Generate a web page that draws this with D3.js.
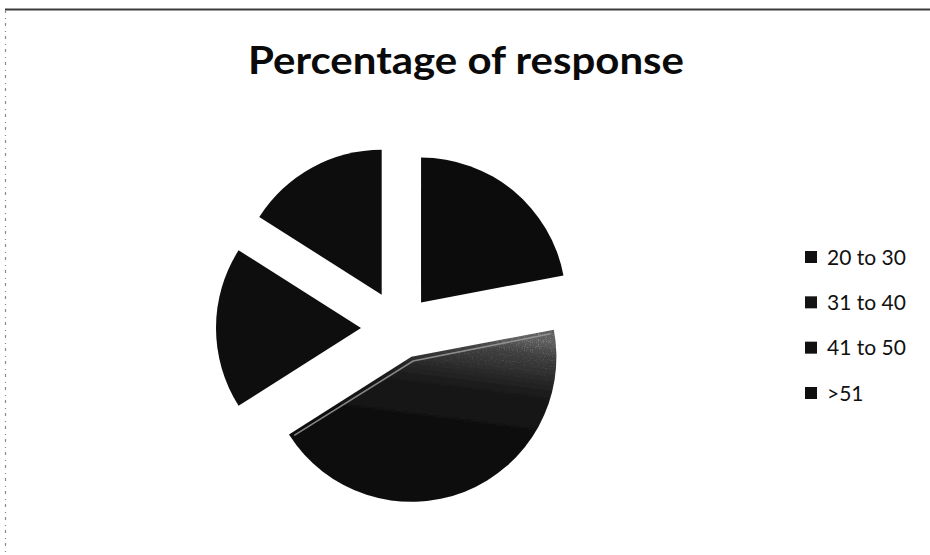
<!DOCTYPE html>
<html>
<head>
<meta charset="utf-8">
<script src="https://cdn.jsdelivr.net/npm/d3@7"></script>
<style>
  html, body { margin: 0; padding: 0; background: #fff; }
  svg { display: block; }
</style>
</head>
<body>
<svg id="chart" width="930" height="555"></svg>
<script>
// Share of responses by age group
const categories = ["20 to 30", "31 to 40", "41 to 50", ">51"];
const values = [22, 44, 18, 16];
const chartTitle = "Percentage of response";

// How far each slice is pulled out from the centre (px)
const explode = [33, 31, 39, 38];
const sliceColors = ["#0c0c0c", "url(#bigSliceFill)", "#0e0e0e", "#0d0d0d"];
const swatchColors = ["#101010", "#141414", "#111111", "#0f0f0f"];

const W = 930, H = 555;
const cx = 400, cy = 328, R = 145;

const svg = d3.select("#chart");

svg.append("rect").attr("width", W).attr("height", H).attr("fill", "#fff");

// frame: solid top rule and a broken left rule
svg.append("line")
  .attr("x1", 5).attr("x2", W).attr("y1", 9.5).attr("y2", 9.5)
  .attr("stroke", "#3a3a3a").attr("stroke-width", 2);
svg.append("line")
  .attr("x1", 5.5).attr("x2", 5.5).attr("y1", 10).attr("y2", H)
  .attr("stroke", "#8a8a8a").attr("stroke-width", 1.2)
  .attr("stroke-dasharray", "3,5,1,4");

const defs = svg.append("defs");
const grad = defs.append("linearGradient")
  .attr("id", "bigSliceFill")
  .attr("x1", 0.6).attr("y1", 0).attr("x2", 0.4).attr("y2", 1);
[[0, "#5e5e5e"], [0.08, "#404040"], [0.3, "#1a1a1a"], [0.55, "#0f0f0f"], [1, "#0a0a0a"]]
  .forEach(([o, c]) => grad.append("stop").attr("offset", o).attr("stop-color", c));

// light speckle for the shaded slice, strongest where the fill is lightest
const grain = defs.append("filter").attr("id", "grain")
  .attr("x", "-5%").attr("y", "-5%").attr("width", "110%").attr("height", "110%");
grain.append("feTurbulence").attr("type", "fractalNoise").attr("baseFrequency", 0.85)
  .attr("numOctaves", 1).attr("seed", 4).attr("result", "noise");
grain.append("feColorMatrix").attr("in", "noise").attr("type", "matrix")
  .attr("values", "0 0 0 0 0.6  0 0 0 0 0.6  0 0 0 0 0.6  0 0 0 4 -2.2").attr("result", "dots");
grain.append("feColorMatrix").attr("in", "SourceGraphic").attr("type", "luminanceToAlpha")
  .attr("result", "lum");
const ct = grain.append("feComponentTransfer").attr("in", "lum").attr("result", "lumMask");
ct.append("feFuncA").attr("type", "linear").attr("slope", 3.2).attr("intercept", -0.05);
grain.append("feComposite").attr("in", "dots").attr("in2", "lumMask")
  .attr("operator", "in").attr("result", "shaded");
grain.append("feComposite").attr("in", "shaded").attr("in2", "SourceGraphic")
  .attr("operator", "in").attr("result", "clipped");
grain.append("feMerge").selectAll("feMergeNode")
  .data(["SourceGraphic", "clipped"]).join("feMergeNode").attr("in", d => d);

// pie
const pie = d3.pie().sort(null).value(d => d);
const arcs = pie(values);
const arc = d3.arc().innerRadius(0).outerRadius(R);

const slices = svg.append("g").attr("transform", `translate(${cx},${cy})`)
  .selectAll("g.slice")
  .data(arcs)
  .join("g")
  .attr("class", "slice")
  .attr("transform", (d, i) => {
    const mid = (d.startAngle + d.endAngle) / 2;
    return `translate(${Math.sin(mid) * explode[i]},${-Math.cos(mid) * explode[i]})`;
  });

slices.append("path")
  .attr("d", arc)
  .attr("fill", (d, i) => sliceColors[i])
  .attr("filter", (d, i) => i === 1 ? "url(#grain)" : null);

// bevel highlight along the straight edges of the largest slice
slices.filter((d, i) => i === 1).each(function (d) {
  const inset = 3.5;
  const a0 = d.startAngle, a1 = d.endAngle;
  const r = R - 4;
  const e0 = [Math.sin(a0) * r + Math.cos(a0) * inset, -Math.cos(a0) * r + Math.sin(a0) * inset];
  const e1 = [Math.sin(a1) * r - Math.cos(a1) * inset, -Math.cos(a1) * r - Math.sin(a1) * inset];
  const mid = (a0 + a1) / 2;
  const apex = [Math.sin(mid) * inset * 1.3, -Math.cos(mid) * inset * 1.3];
  d3.select(this).append("path")
    .attr("d", d3.line()([e1, apex, e0]))
    .attr("fill", "none")
    .attr("stroke", "#9a9a9a")
    .attr("stroke-width", 1.6)
    .attr("opacity", 0.85);
});

// title
const title = svg.append("text")
  .attr("x", 248).attr("y", 74)
  .attr("font-family", "Lato, 'Open Sans', sans-serif")
  .attr("font-weight", 700)
  .attr("font-size", 39)
  .attr("fill", "#0a0a0a")
  .text(chartTitle);
title.attr("textLength", 436).attr("lengthAdjust", "spacingAndGlyphs");

// legend
const legendY = d3.scalePoint().domain(categories).range([257, 393]);
const legend = svg.append("g")
  .selectAll("g")
  .data(categories)
  .join("g")
  .attr("transform", d => `translate(805,${legendY(d)})`);

legend.append("rect")
  .attr("x", 0).attr("y", -6).attr("width", 12).attr("height", 12)
  .attr("fill", (d, i) => swatchColors[i]);

legend.append("text")
  .attr("x", 22).attr("y", 7.5)
  .attr("font-family", "Lato, 'Open Sans', sans-serif")
  .attr("font-size", 21)
  .attr("fill", "#111")
  .text(d => d);
</script>
</body>
</html>
